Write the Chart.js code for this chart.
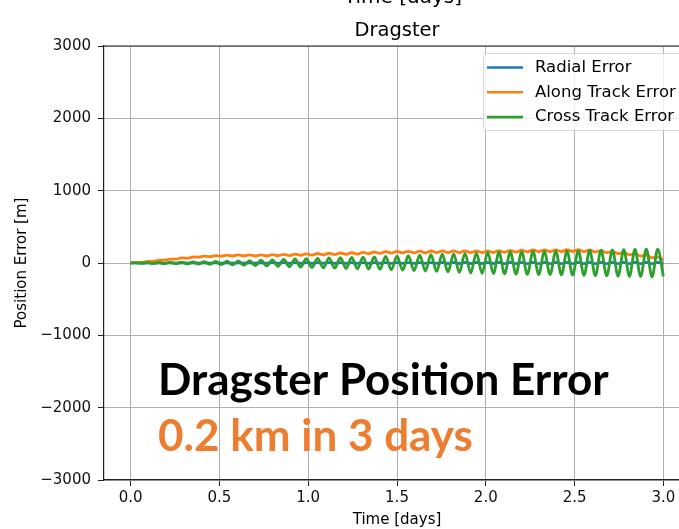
<!DOCTYPE html>
<html>
<head>
<meta charset="utf-8">
<script src="https://cdn.jsdelivr.net/npm/chart.js@4.4.0/dist/chart.umd.min.js"></script>
<style>
html,body{margin:0;padding:0;background:#fff;overflow:hidden;width:679px;height:529px;}
#wrap{position:absolute;left:0;top:0;width:692px;height:529px;}
canvas{display:block;}
</style>
</head>
<body>
<div id="wrap"><canvas id="c" width="692" height="529" style="width:692px;height:529px"></canvas></div>
<script>
// ---- data (time in days, errors in metres) ----
const timeDays = [
  0.000, 0.032, 0.064, 0.096, 0.128, 0.160, 0.191, 0.223, 0.255, 0.287,
  0.319, 0.351, 0.383, 0.415, 0.447, 0.479, 0.511, 0.543, 0.574, 0.606,
  0.638, 0.670, 0.702, 0.734, 0.766, 0.798, 0.830, 0.862, 0.894, 0.926,
  0.957, 0.989, 1.021, 1.053, 1.085, 1.117, 1.149, 1.181, 1.213, 1.245,
  1.277, 1.309, 1.340, 1.372, 1.404, 1.436, 1.468, 1.500, 1.532, 1.564,
  1.596, 1.628, 1.660, 1.691, 1.723, 1.755, 1.787, 1.819, 1.851, 1.883,
  1.915, 1.947, 1.979, 2.011, 2.043, 2.074, 2.106, 2.138, 2.170, 2.202,
  2.234, 2.266, 2.298, 2.330, 2.362, 2.394, 2.426, 2.457, 2.489, 2.521,
  2.553, 2.585, 2.617, 2.649, 2.681, 2.713, 2.745, 2.777, 2.809, 2.840,
  2.872, 2.904, 2.936, 2.968, 3.000
];
const radialError = [
  0, 1, -1, 1, -1, 1, -1, 2, -2, 2,
  -2, 2, -2, 2, -2, 3, -3, 3, -3, 3,
  -3, 3, -3, 3, -3, 4, -4, 4, -4, 4,
  -4, 4, -4, 4, -4, 5, -5, 5, -5, 5,
  -5, 5, -5, 5, -5, 6, -6, 6, -6, 6,
  -6, 6, -6, 6, -6, 7, -7, 7, -7, 7,
  -7, 7, -7, 7, -7, 8, -8, 8, -8, 8,
  -8, 8, -8, 8, -8, 9, -9, 9, -9, 9,
  -9, 9, -9, 9, -9, 10, -10, 10, -10, 10,
  -10, 10, -10, 10, -10
];
const alongTrackError = [
  0, 9, 10, 22, 24, 39, 39, 54, 54, 70,
  67, 83, 80, 96, 88, 103, 94, 109, 97, 112,
  98, 113, 97, 113, 98, 115, 101, 120, 103, 123,
  107, 126, 110, 131, 113, 135, 116, 138, 120, 142,
  124, 147, 128, 152, 132, 156, 137, 161, 140, 162,
  141, 165, 141, 166, 143, 167, 143, 167, 143, 167,
  143, 167, 143, 168, 145, 171, 148, 174, 151, 177,
  155, 180, 157, 181, 158, 182, 159, 183, 160, 183,
  158, 181, 153, 172, 143, 161, 129, 146, 113, 129,
  96, 110, 72, 81, 43
];
const crossTrackError = [
  0, 2, -3, 5, -6, 7, -8, 9, -10, 12,
  -13, 15, -16, 18, -19, 21, -23, 25, -27, 30,
  -32, 34, -37, 39, -41, 44, -47, 50, -53, 55,
  -58, 61, -63, 65, -67, 70, -72, 74, -76, 78,
  -80, 82, -84, 86, -88, 91, -93, 95, -98, 101,
  -105, 108, -111, 114, -117, 121, -124, 127, -130, 133,
  -137, 140, -143, 146, -147, 149, -150, 152, -154, 155,
  -157, 159, -160, 161, -162, 164, -165, 166, -167, 169,
  -171, 173, -175, 176, -178, 180, -182, 183, -185, 187,
  -188, 190, -192, 193, -185
];
const xTicks = [0.0, 0.5, 1.0, 1.5, 2.0, 2.5, 3.0];
const yTicks = [-3000, -2000, -1000, 0, 1000, 2000, 3000];
const seriesNames = ['Radial Error', 'Along Track Error', 'Cross Track Error'];
const seriesColors = ['#1f77b4', '#ff7f0e', '#2ca02c'];
const plotTitle = 'Dragster';
const topCutLabel = 'Time [days]';
const xLabel = 'Time [days]';
const yLabel = 'Position Error [m]';
const overlayLine1 = 'Dragster Position Error';
const overlayLine2 = '0.2 km in 3 days';

// ---- chart ----
const FONT = '"DejaVu Sans", sans-serif';
const seriesValues = [radialError, alongTrackError, crossTrackError];

function toPoints(arr) { return timeDays.map((t, i) => ({ x: t, y: arr[i] })); }

const decor = {
  id: 'decor',
  afterDatasetsDraw(chart) {
    const ctx = chart.ctx, a = chart.chartArea;
    ctx.save();
    // top spine
    ctx.strokeStyle = '#222';
    ctx.lineWidth = 1.2;
    ctx.beginPath();
    ctx.moveTo(a.left, a.top);
    ctx.lineTo(a.right, a.top);
    ctx.stroke();
    // legend box
    const bx = 483.5, by = 53.5, bw = 230, bh = 77;
    ctx.globalAlpha = 0.8;
    ctx.fillStyle = '#ffffff';
    ctx.strokeStyle = '#cccccc';
    ctx.lineWidth = 1;
    ctx.beginPath();
    ctx.roundRect(bx, by, bw, bh, 3);
    ctx.fill();
    ctx.stroke();
    ctx.globalAlpha = 1;
    ctx.font = '16.5px ' + FONT;
    ctx.textBaseline = 'middle';
    ctx.textAlign = 'left';
    chart.data.datasets.forEach((ds, i) => {
      const y = 67.5 + i * 24.8;
      ctx.strokeStyle = ds.borderColor;
      ctx.lineWidth = 2.6;
      ctx.beginPath();
      ctx.moveTo(487, y);
      ctx.lineTo(523, y);
      ctx.stroke();
      ctx.fillStyle = '#000';
      ctx.fillText(ds.label, 535, y);
    });
    ctx.restore();
  },
  afterDraw(chart) {
    const ctx = chart.ctx, a = chart.chartArea;
    const cx = (a.left + a.right) / 2;
    ctx.save();
    ctx.fillStyle = '#000';
    ctx.textAlign = 'center';
    ctx.textBaseline = 'alphabetic';
    ctx.font = '19.5px ' + FONT;
    ctx.fillText(plotTitle, cx, 36);
    ctx.font = '20px ' + FONT;
    ctx.fillText(topCutLabel, cx + 6, 3);
    // overlay annotation
    ctx.textAlign = 'left';
    ctx.font = 'bold 44px Lato, "Open Sans", sans-serif';
    ctx.fillStyle = '#000000';
    ctx.fillText(overlayLine1, 158, 395);
    ctx.fillStyle = '#ED7D31';
    ctx.fillText(overlayLine2, 158, 451);
    ctx.restore();
  }
};

new Chart(document.getElementById('c'), {
  type: 'line',
  data: {
    datasets: seriesNames.map((name, i) => ({
      label: name,
      data: toPoints(seriesValues[i]),
      borderColor: seriesColors[i],
      backgroundColor: seriesColors[i],
      borderWidth: 2.8,
      pointRadius: 0,
      tension: 0.4,
      cubicInterpolationMode: 'monotone',
      fill: false,
      order: 3 - i
    }))
  },
  options: {
    responsive: false,
    animation: false,
    events: [],
    layout: { padding: { top: 46, left: 0, right: 2, bottom: 0 } },
    plugins: {
      legend: { display: false },
      title: { display: false },
      tooltip: { enabled: false }
    },
    scales: {
      x: {
        type: 'linear',
        min: -0.15,
        max: 3.15,
        afterBuildTicks: s => { s.ticks = xTicks.map(v => ({ value: v })); },
        afterFit: s => { s.height = 49; },
        ticks: {
          callback: v => Number(v).toFixed(1),
          font: { family: FONT, size: 15 },
          color: '#111',
          padding: 3,
          maxRotation: 0,
          autoSkip: false
        },
        grid: { color: '#b0b0b0', lineWidth: 1, tickLength: 6, tickColor: '#222', drawTicks: true },
        border: { color: '#222', width: 1.2 },
        title: {
          display: true, text: xLabel,
          font: { family: FONT, size: 15 }, color: '#000',
          padding: { top: 0, bottom: 0 }
        }
      },
      y: {
        type: 'linear',
        min: -3000,
        max: 3000,
        afterBuildTicks: s => { s.ticks = yTicks.map(v => ({ value: v })); },
        afterFit: s => { s.width = 104; },
        ticks: {
          callback: v => (v < 0 ? '\u2212' + Math.abs(v) : String(v)),
          font: { family: FONT, size: 15 },
          color: '#111',
          padding: 7,
          autoSkip: false
        },
        grid: { color: '#b0b0b0', lineWidth: 1, tickLength: 6, tickColor: '#222', drawTicks: true },
        border: { color: '#222', width: 1.2 },
        title: {
          display: true, text: yLabel,
          font: { family: FONT, size: 15 }, color: '#000',
          padding: { top: 13, bottom: 0 }
        }
      }
    }
  },
  plugins: [decor]
});
</script>
</body>
</html>
